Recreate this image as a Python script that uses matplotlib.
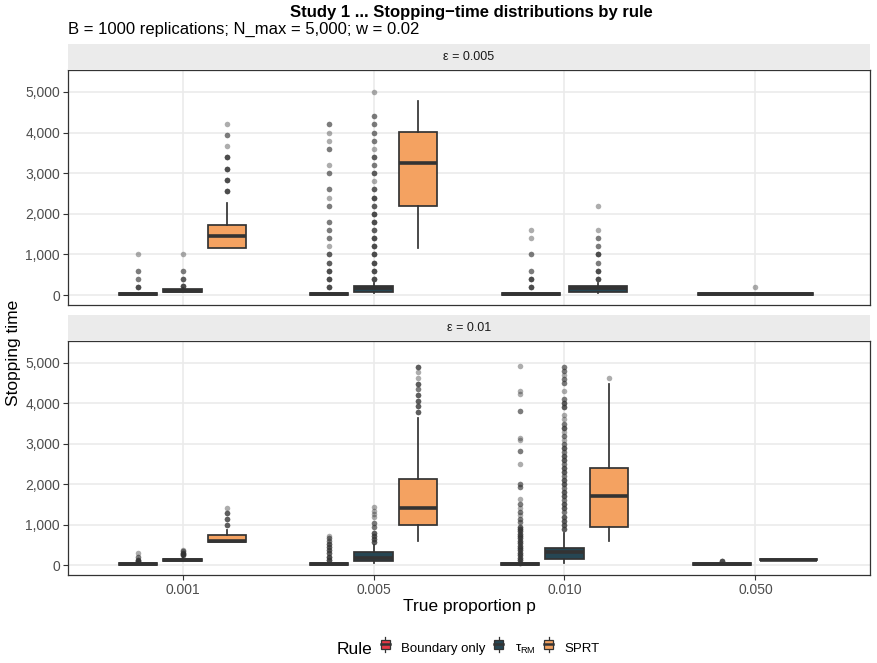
import numpy as np
import matplotlib.pyplot as plt
from matplotlib.patches import Rectangle, Patch
from matplotlib.lines import Line2D
from matplotlib.legend_handler import HandlerBase

plt.rcParams['font.family'] = ['Liberation Sans', 'DejaVu Sans']
plt.rcParams['mathtext.fontset'] = 'custom'
plt.rcParams['mathtext.rm'] = 'Liberation Sans'
plt.rcParams['mathtext.it'] = 'Liberation Sans'

p_labels = ['0.001', '0.005', '0.010', '0.050']
eps_labels = ['\u03b5 = 0.005', '\u03b5 = 0.01']
rule_names = ['Boundary only', r'$\tau_{\mathrm{RM}}$', 'SPRT']
rule_colors = ['#E63946', '#264653', '#F4A261']

# box stats per p: (whisker_lo, q1, median, q3, whisker_hi); None = rule absent
# eps = 0.005
bnd_005 = [(0, 10, 25, 40, 60), (0, 10, 25, 40, 60), (0, 10, 25, 40, 60), (0, 10, 25, 40, 60)]
rm_005 = [(70, 85, 110, 140, 180), (40, 80, 170, 220, 300), (40, 80, 170, 220, 300), None]
sprt_005 = [(1160, 1160, 1445, 1715, 2260), (1165, 2192, 3243, 4007, 4770), None, None]
# eps = 0.01
bnd_01 = [(0, 5, 25, 50, 70), (0, 10, 25, 40, 60), (0, 10, 25, 40, 60), (0, 5, 20, 40, 60)]
rm_01 = [(90, 100, 130, 160, 200), (40, 100, 180, 313, 493), (40, 140, 313, 411, 796), (115, 120, 130, 145, 150)]
sprt_01 = [(567, 567, 600, 739, 862), (599, 1002, 1421, 2118, 3637), (599, 929, 1708, 2406, 4475), None]

# outliers per p: list of (value, how many overlap)
bnd_005_out = [
    [(200, 4), (400, 2), (600, 2), (1000, 1)],
    [(200, 4), (400, 4), (600, 4), (800, 3), (1000, 3), (1200, 1), (1400, 2), (1600, 2), (1800, 2),
     (2200, 2), (2400, 1), (2600, 2), (3000, 2), (3200, 1), (3600, 2), (3800, 1), (4000, 1), (4200, 2)],
    [(200, 4), (400, 4), (600, 2), (1000, 2), (1400, 1), (1600, 1)],
    [(200, 1)],
]
rm_005_out = [
    [(220, 4), (400, 3), (600, 2), (1000, 1)],
    [(400, 4), (600, 4), (800, 4), (1000, 4), (1200, 4), (1400, 4), (1600, 3), (1800, 4), (2000, 4),
     (2200, 3), (2400, 4), (2600, 3), (2800, 1), (3000, 3), (3200, 2), (3400, 3), (3600, 1),
     (3800, 2), (4000, 2), (4200, 2), (4400, 2), (5000, 1)],
    [(400, 4), (600, 4), (800, 2), (1000, 4), (1200, 2), (1400, 2), (1600, 1), (2200, 1)],
    [],
]
sprt_005_out = [
    [(2560, 4), (2830, 4), (3110, 4), (3390, 4), (3660, 1), (3940, 2), (4220, 1)],
    [], [], [],
]
bnd_01_out = [
    [(90, 4), (120, 3), (200, 2), (300, 1)],
    [(120, 4), (200, 4), (300, 3), (380, 3), (450, 3), (520, 3), (600, 2), (660, 2), (714, 1)],
    [(60, 3), (120, 3), (180, 3), (240, 3), (300, 3), (360, 3), (420, 3), (480, 3), (540, 3), (600, 3),
     (660, 3), (720, 3), (780, 3), (840, 3), (900, 3), (940, 3), (1070, 2), (1150, 2), (1230, 1),
     (1310, 2), (1400, 1), (1500, 2), (1640, 1), (1930, 2), (2010, 2), (2500, 1), (2820, 2),
     (3080, 1), (3150, 1), (3820, 2), (4230, 1), (4310, 1), (4930, 1)],
    [(107, 4)],
]
rm_01_out = [
    [(250, 3), (280, 3), (310, 3), (340, 2), (370, 1)],
    [(570, 3), (640, 3), (720, 3), (800, 3), (940, 2), (1030, 2), (1180, 1), (1250, 1), (1330, 1), (1430, 1)],
    [(900, 3), (1000, 3), (1100, 3), (1200, 3), (1300, 2), (1400, 3), (1500, 3), (1600, 2), (1700, 3),
     (1800, 3), (1900, 2), (2000, 3), (2100, 3), (2200, 2), (2300, 3), (2400, 3), (2500, 2), (2600, 3),
     (2700, 3), (2800, 2), (2900, 3), (3000, 2), (3100, 1), (3200, 2), (3300, 1), (3400, 3),
     (3500, 2), (3600, 1), (3700, 1), (3900, 3), (4000, 3), (4100, 2), (4300, 1), (4500, 2),
     (4600, 2), (4700, 1), (4800, 2), (4900, 2)],
    [],
]
sprt_01_out = [
    [(1000, 3), (1140, 3), (1280, 3), (1420, 1)],
    [(3785, 3), (3924, 3), (4064, 3), (4204, 3), (4343, 2), (4483, 3), (4622, 1), (4762, 1), (4901, 3)],
    [(4613, 1)],
    [],
]

panels = [
    ([bnd_005, rm_005, sprt_005], [bnd_005_out, rm_005_out, sprt_005_out]),
    ([bnd_01, rm_01, sprt_01], [bnd_01_out, rm_01_out, sprt_01_out]),
]

W, H = 877, 663
fig = plt.figure(figsize=(W / 100, H / 100), dpi=100)

def fx(px):
    return px / W

def fy(py):
    return 1 - py / H

left, right = 68, 870
panel_px = [(70, 305), (341, 575)]
strip_h = 26

dark = '#333333'
for k, (stats, outs) in enumerate(panels):
    top, bot = panel_px[k]
    ax = fig.add_axes([fx(left), fy(bot), fx(right - left), (bot - top) / H])
    sax = fig.add_axes([fx(left), fy(top), fx(right - left), strip_h / H])
    sax.set_facecolor('#EBEBEB')
    sax.set_xticks([])
    sax.set_yticks([])
    for s in sax.spines.values():
        s.set_visible(False)
    sax.text(0.5, 0.5, eps_labels[k], ha='center', va='center', fontsize=9, color='#1A1A1A',
             transform=sax.transAxes)

    for i in range(len(p_labels)):
        present = [r for r in range(3) if stats[r][i] is not None]
        n = len(present)
        for j, r in enumerate(present):
            lo, q1, med, q3, hi = stats[r][i]
            fl = outs[r][i]
            fliers = np.repeat([v for v, c in fl], [c for v, c in fl]) if fl else np.array([])
            pos = (i + 1) + (j - (n - 1) / 2) * 0.7 / n
            ax.bxp([dict(whislo=lo, q1=q1, med=med, q3=q3, whishi=hi, fliers=fliers)],
                   positions=[pos], widths=[0.6 / n], patch_artist=True, showcaps=False,
                   manage_ticks=False,
                   boxprops=dict(facecolor=rule_colors[r], edgecolor=dark, linewidth=1.25),
                   medianprops=dict(color=dark, linewidth=2.6),
                   whiskerprops=dict(color=dark, linewidth=1.25),
                   flierprops=dict(marker='o', markersize=4, markerfacecolor=dark,
                                   markeredgecolor='none', alpha=0.4))

    ax.set_xlim(0.4, 4.6)
    ax.set_ylim(-246, 5540)
    ax.set_yticks([0, 1000, 2000, 3000, 4000, 5000])
    ax.set_yticklabels(['{:,}'.format(v) for v in [0, 1000, 2000, 3000, 4000, 5000]])
    ax.set_xticks([1, 2, 3, 4])
    ax.grid(True, color='#EBEBEB', linewidth=1.2)
    ax.set_axisbelow(True)
    for s in ax.spines.values():
        s.set_color(dark)
        s.set_linewidth(0.9)
    ax.tick_params(axis='both', length=3.3, color=dark, labelcolor='#4D4D4D', labelsize=10,
                   width=0.8, pad=2.5)
    if k == 0:
        ax.tick_params(axis='x', length=0, labelbottom=False)
    else:
        ax.set_xticklabels(p_labels)

fig.text(fx(471), fy(12), 'Study 1 ... Stopping\u2212time distributions by rule', ha='center', va='center',
         fontsize=12, fontweight='bold')
fig.text(fx(68), fy(29), 'B = 1000 replications; N_max = 5,000; w = 0.02', ha='left', va='center',
         fontsize=12)
fig.text(fx(14), fy(353), 'Stopping time', rotation=90, ha='center', va='center', fontsize=12.5)
fig.text(fx(469), fy(607), 'True proportion p', ha='center', va='center', fontsize=12.5)


class BoxKey(HandlerBase):
    def create_artists(self, legend, orig, xd, yd, w, h, fs, trans):
        c = orig.get_facecolor()
        cx = xd + w / 2
        arts = [Line2D([cx, cx], [yd - 0.1 * h, yd + 1.1 * h], color=dark, lw=0.9, transform=trans),
                Rectangle((xd + 0.05 * w, yd + 0.15 * h), 0.9 * w, 0.7 * h, facecolor=c,
                          edgecolor=dark, lw=0.9, transform=trans),
                Line2D([xd + 0.05 * w, xd + 0.95 * w], [yd + 0.5 * h, yd + 0.5 * h], color=dark,
                       lw=1.8, transform=trans)]
        return arts


handles = [Patch(facecolor=c) for c in rule_colors]
fig.text(fx(372), fy(649), 'Rule', ha='right', va='center', fontsize=12.5)
fig.legend(handles, rule_names, loc='center left', bbox_to_anchor=(fx(380), fy(649)), ncol=3,
           frameon=False, fontsize=9.5, handler_map={Patch: BoxKey()}, handlelength=0.8,
           handleheight=1.1, handletextpad=0.8, columnspacing=0.6, borderpad=0, borderaxespad=0)

fig.savefig('out.png', dpi=100)
